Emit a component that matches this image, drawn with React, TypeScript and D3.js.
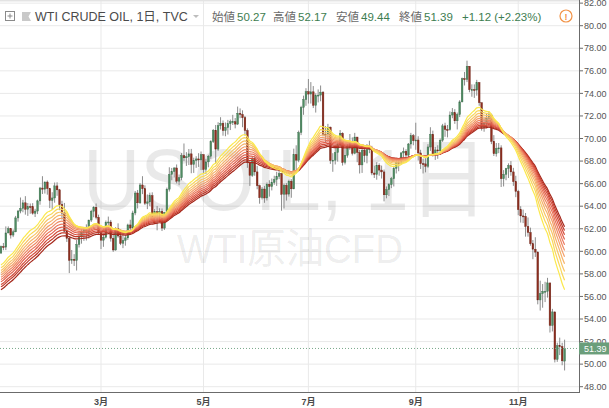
import React from "react";
import * as d3 from "d3";

// [month, day, open, high, low, close]
const bars: number[][] = [
  [12,29,59.84,60.51,59.81,60.42],
  [1,2,60.42,60.74,60.10,60.37],[1,3,60.37,62.21,60.11,61.63],[1,4,61.63,62.21,61.60,62.01],[1,5,62.01,62.04,61.13,61.44],
  [1,8,61.44,61.93,61.26,61.73],[1,9,61.73,63.14,61.69,62.96],[1,10,62.96,63.67,62.63,63.57],[1,11,63.57,64.77,63.37,63.80],
  [1,12,63.80,64.56,63.46,64.30],[1,16,64.30,64.89,63.25,63.73],[1,17,63.73,64.28,63.14,63.97],[1,18,63.97,64.24,63.33,63.95],
  [1,19,63.95,64.27,63.25,63.37],[1,22,63.37,63.77,63.04,63.57],[1,23,63.57,64.58,63.30,64.47],[1,24,64.47,65.71,64.13,65.61],
  [1,25,65.61,66.66,65.08,65.51],[1,26,65.51,66.20,65.12,66.14],[1,29,66.14,66.28,65.02,65.56],[1,30,65.56,65.62,63.83,64.50],
  [1,31,64.50,65.24,63.67,64.73],
  [2,1,64.73,66.10,64.31,65.80],[2,2,65.80,66.12,64.92,65.45],[2,5,65.45,65.53,63.65,64.15],[2,6,64.15,64.48,62.81,63.39],
  [2,7,63.39,64.29,61.71,61.79],[2,8,61.79,62.20,60.83,61.15],[2,9,61.15,61.34,58.07,59.20],[2,12,59.20,60.12,58.89,59.29],
  [2,13,59.29,59.75,58.70,59.19],[2,14,59.19,61.00,58.30,60.60],[2,15,60.60,61.64,60.34,61.34],[2,16,61.34,61.96,60.68,61.68],
  [2,20,61.68,62.09,60.93,61.90],[2,21,61.90,62.39,60.96,61.68],[2,22,61.68,62.80,61.13,62.77],[2,23,62.77,63.68,62.60,63.55],
  [2,26,63.55,64.01,63.02,63.91],[2,27,63.91,64.24,62.83,63.01],[2,28,63.01,63.25,61.45,61.64],
  [3,1,61.64,61.80,60.20,60.99],[3,2,60.99,61.54,60.40,61.25],[3,5,61.25,62.73,61.14,62.57],[3,6,62.57,63.08,62.10,62.60],
  [3,7,62.60,62.78,60.86,61.15],[3,8,61.15,61.50,59.95,60.12],[3,9,60.12,62.14,60.05,62.04],[3,12,62.04,62.48,61.21,61.36],
  [3,13,61.36,61.97,60.55,60.71],[3,14,60.71,61.80,60.28,60.96],[3,15,60.96,61.47,60.50,61.19],[3,16,61.19,62.45,61.00,62.34],
  [3,19,62.34,62.80,61.60,62.06],[3,20,62.06,63.60,61.72,63.40],[3,21,63.40,65.35,63.20,65.17],[3,22,65.17,65.44,63.80,64.30],
  [3,23,64.30,66.05,64.20,65.88],[3,26,65.88,66.66,65.07,65.55],[3,27,65.55,65.85,64.10,64.25],[3,28,64.25,65.04,63.74,64.38],
  [3,29,64.38,65.20,64.00,64.94],
  [4,2,64.94,65.23,62.65,63.01],[4,3,63.01,63.75,62.56,63.51],[4,4,63.51,64.02,61.86,63.37],[4,5,63.37,63.82,62.90,63.54],
  [4,6,63.54,63.80,61.80,62.06],[4,9,62.06,63.50,61.90,63.42],[4,10,63.42,65.65,63.30,65.51],[4,11,65.51,67.45,65.30,66.82],
  [4,12,66.82,67.39,66.30,67.07],[4,13,67.07,67.45,66.55,67.39],[4,16,67.39,67.70,66.02,66.22],[4,17,66.22,66.81,65.86,66.52],
  [4,18,66.52,68.71,66.30,68.47],[4,19,68.47,69.56,68.00,68.29],[4,20,68.29,68.79,67.57,68.38],[4,23,68.38,69.07,67.65,68.64],
  [4,24,68.64,69.08,66.92,67.70],[4,25,67.70,68.30,66.95,68.05],[4,26,68.05,68.43,67.40,68.19],[4,27,68.19,68.70,67.48,68.10],
  [4,30,68.10,68.85,67.20,68.57],
  [5,1,68.57,68.60,66.95,67.25],[5,2,67.25,68.20,66.85,67.93],[5,3,67.93,68.55,67.45,68.43],[5,4,68.43,69.85,68.20,69.72],
  [5,7,69.72,70.84,69.60,70.73],[5,8,70.73,71.20,67.75,69.06],[5,9,69.06,71.44,68.90,71.14],[5,10,71.14,71.89,70.80,71.36],
  [5,11,71.36,71.60,70.25,70.70],[5,14,70.70,71.42,70.20,70.96],[5,15,70.96,71.65,70.35,71.31],[5,16,71.31,71.68,70.75,71.49],
  [5,17,71.49,72.10,71.20,71.49],[5,18,71.49,71.82,70.90,71.28],[5,21,71.28,72.83,71.20,72.24],[5,22,72.24,72.67,71.80,72.13],
  [5,23,72.13,72.50,71.00,71.84],[5,24,71.84,72.00,70.25,70.71],[5,25,70.71,70.90,67.40,67.88],[5,29,67.88,68.05,65.80,66.73],
  [5,30,66.73,68.40,66.60,68.21],[5,31,68.21,68.50,66.70,67.04],
  [6,1,67.04,67.58,65.50,65.81],[6,4,65.81,65.91,64.22,64.75],[6,5,64.75,65.70,64.60,65.52],[6,6,65.52,65.80,64.30,64.73],
  [6,7,64.73,66.10,64.50,65.95],[6,8,65.95,66.30,64.85,65.74],[6,11,65.74,66.45,65.40,66.10],[6,12,66.10,66.70,65.90,66.36],
  [6,13,66.36,67.05,65.80,66.64],[6,14,66.64,67.30,66.40,66.89],[6,15,66.89,66.95,63.60,65.06],[6,18,65.06,66.00,63.80,65.85],
  [6,19,65.85,66.05,64.50,65.07],[6,20,65.07,66.35,64.85,66.22],[6,21,66.22,66.40,64.75,65.54],[6,22,65.54,69.10,65.50,68.58],
  [6,25,68.58,69.40,67.20,68.08],[6,26,68.08,70.70,67.90,70.53],[6,27,70.53,72.90,70.30,72.76],[6,28,72.76,73.80,72.10,73.45],
  [6,29,73.45,74.46,72.90,74.15],
  [7,2,74.15,75.27,73.10,73.94],[7,3,73.94,75.00,73.10,74.14],[7,5,74.14,74.65,72.70,72.94],[7,6,72.94,74.00,72.30,73.80],
  [7,9,73.80,74.35,73.20,73.85],[7,10,73.85,74.70,73.30,74.11],[7,11,74.11,74.20,70.20,70.38],[7,12,70.38,71.10,69.60,70.33],
  [7,13,70.33,71.30,69.80,71.01],[7,16,71.01,71.05,67.75,68.06],[7,17,68.06,68.70,67.05,68.08],[7,18,68.08,69.40,67.70,68.76],
  [7,19,68.76,69.70,67.95,69.46],[7,20,69.46,70.75,69.30,70.46],[7,23,70.46,70.55,67.60,67.89],[7,24,67.89,69.10,67.70,68.52],
  [7,25,68.52,69.50,68.30,69.30],[7,26,69.30,70.40,69.00,69.61],[7,27,69.61,70.10,68.50,68.69],[7,30,68.69,70.50,68.60,70.13],
  [7,31,70.13,70.10,67.90,68.76],
  [8,1,68.76,69.00,66.90,67.66],[8,2,67.66,69.10,66.95,68.96],[8,3,68.96,69.30,67.90,68.49],[8,6,68.49,69.50,67.80,69.01],
  [8,7,69.01,69.80,68.70,69.17],[8,8,69.17,69.35,66.75,66.94],[8,9,66.94,67.60,66.50,66.81],[8,10,66.81,67.90,66.35,67.63],
  [8,13,67.63,67.80,66.70,67.20],[8,14,67.20,67.60,66.45,67.04],[8,15,67.04,67.25,64.43,65.01],[8,16,65.01,65.75,64.70,65.46],
  [8,17,65.46,66.05,64.90,65.91],[8,20,65.91,66.60,65.60,66.43],[8,21,66.43,67.50,65.75,67.35],[8,22,67.35,68.10,66.90,67.86],
  [8,23,67.86,68.25,67.10,67.83],[8,24,67.83,68.80,67.70,68.72],[8,27,68.72,69.20,68.30,68.87],[8,28,68.87,69.05,68.05,68.53],
  [8,29,68.53,69.60,68.30,69.51],[8,30,69.51,70.50,69.10,70.25],[8,31,70.25,70.40,69.40,69.80],
  [9,4,69.80,71.40,69.00,69.87],[9,5,69.87,70.20,68.05,68.72],[9,6,68.72,69.00,67.30,67.77],[9,7,67.77,68.20,66.90,67.75],
  [9,10,67.75,68.25,67.00,67.54],[9,11,67.54,69.50,67.40,69.25],[9,12,69.25,71.00,68.90,70.37],[9,13,70.37,70.70,68.40,68.59],
  [9,14,68.59,69.25,68.10,68.99],[9,17,68.99,69.40,68.20,68.91],[9,18,68.91,70.00,68.55,69.85],[9,19,69.85,71.30,69.70,71.12],
  [9,20,71.12,71.40,70.15,70.80],[9,21,70.80,71.20,70.10,70.78],[9,24,70.78,72.40,70.70,72.08],[9,25,72.08,72.70,71.80,72.28],
  [9,26,72.28,72.60,71.30,71.57],[9,27,71.57,72.30,70.80,72.12],[9,28,72.12,73.40,71.90,73.25],
  [10,1,73.25,75.40,73.20,75.30],[10,2,75.30,75.90,74.70,75.23],[10,3,75.23,76.90,75.00,76.41],[10,4,76.41,76.40,74.10,74.33],
  [10,5,74.33,74.80,73.70,74.34],[10,8,74.34,74.80,73.60,74.29],[10,9,74.29,75.20,73.80,74.96],[10,10,74.96,75.00,72.90,73.17],
  [10,11,73.17,73.20,70.70,70.97],[10,12,70.97,71.80,70.60,71.34],[10,15,71.34,72.20,70.90,71.78],[10,16,71.78,72.40,71.20,72.09],
  [10,17,72.09,72.20,69.50,69.75],[10,18,69.75,70.30,68.45,68.65],[10,19,68.65,69.60,68.40,69.12],[10,22,69.12,69.60,68.70,69.17],
  [10,23,69.17,69.40,65.70,66.43],[10,24,66.43,67.20,65.75,66.82],[10,25,66.82,67.40,66.30,67.33],[10,26,67.33,67.80,66.50,67.59],
  [10,29,67.59,68.00,66.70,67.04],[10,30,67.04,67.40,65.80,66.18],[10,31,66.18,66.70,64.80,65.31],
  [11,1,65.31,65.45,63.20,63.69],[11,2,63.69,64.00,62.55,63.14],[11,5,63.14,63.70,62.50,63.10],[11,6,63.10,63.40,61.30,62.21],
  [11,7,62.21,63.00,61.30,61.67],[11,8,61.67,62.10,60.50,60.67],[11,9,60.67,61.00,59.30,60.19],[11,12,60.19,61.25,59.50,59.93],
  [11,13,59.93,60.00,55.30,55.69],[11,14,55.69,57.40,54.75,56.25],[11,15,56.25,57.10,55.00,56.46],[11,16,56.46,57.30,55.50,56.46],
  [11,19,56.46,57.65,55.90,57.20],[11,20,57.20,57.20,52.80,53.43],[11,21,53.43,54.90,52.90,54.63],[11,23,54.63,54.65,50.15,50.42],
  [11,26,50.42,51.90,50.20,51.63],[11,27,51.63,52.35,50.80,51.56],[11,28,51.56,51.90,49.90,50.29],[11,29,50.27,52.17,49.44,51.39],
];

const yTicks = [48, 50, 52, 54, 56, 58, 60, 62, 64, 66, 68, 70, 72, 74, 76, 78, 80, 82];
const monthTicks = [3, 5, 7, 9, 11];
const monthLabels = ["3月", "5月", "7月", "9月", "11月"];
const emaPeriods = [20, 23, 26, 29, 32, 35, 38, 41, 44, 47, 50];
const emaSeeds = [58.8, 58.55, 58.3, 58.1, 57.9, 57.7, 57.5, 57.3, 57.05, 56.85, 56.6];
const headerLabels = ["始値", "高値", "安値", "終値"];
const headerValues = ["50.27", "52.17", "49.44", "51.39"];
const headerTitle = "WTI CRUDE OIL, 1日, TVC";
const headerChange = "+1.12 (+2.23%)";
const lastPrice = 51.39;

const W = 609, H = 408;
const PLOT_R = 579, PLOT_B = 392;
const FONT = "'Liberation Sans', Arial, 'Noto Sans CJK JP', sans-serif";
const labelX = [212, 273, 336, 399];

export default function App() {
  const x = d3.scaleLinear().domain([0, bars.length - 1]).range([0.96, 0.96 + (bars.length - 1) * 2.44]);
  const y = d3.scaleLinear().domain([48, 80]).range([386.7, 25.7]);
  const closes = bars.map((b) => b[5]);

  const emaLines = emaPeriods.map((p, k) => {
    const a = 2 / (p + 1);
    let v = emaSeeds[k];
    return closes.map((c, i) => {
      if (i > 0) v = v + a * (c - v);
      return v;
    });
  });
  const colorAt = d3.interpolateRgbBasis(["#fbe84c", "#f8c66c", "#f3a06c", "#ec7560", "#da4a38", "#a5281c"]);
  const line = d3.line<number>().x((_, i) => x(i)).y((v) => y(v)).curve(d3.curveMonotoneX);

  const monthX = monthTicks.map((m) => x(bars.findIndex((b) => b[0] === m)));
  const bw = 1.7;

  return (
    <svg width={W} height={H} style={{ position: "absolute", left: 0, top: 0, background: "#fff" }} fontFamily={FONT}>
      <rect x={0} y={0} width={W} height={H} fill="#fff" />
      {/* grid */}
      {yTicks.map((t) => (
        <line key={"gy" + t} x1={0} x2={PLOT_R} y1={y(t)} y2={y(t)} stroke="#e9e9e9" strokeWidth={1} />
      ))}
      {monthX.map((mx, i) => (
        <line key={"gx" + i} x1={mx} x2={mx} y1={0} y2={PLOT_B} stroke="#e9e9e9" strokeWidth={1} />
      ))}
      <line x1={0} x2={W} y1={0.5} y2={0.5} stroke="#e3e3e3" strokeWidth={2} />
      {/* watermark */}
      <text x={83} y={210} fontSize={88} fill="#000" fillOpacity={0.085} textLength={405} lengthAdjust="spacingAndGlyphs">USOIL, 1日</text>
      <text x={177} y={263} fontSize={41} fill="#000" fillOpacity={0.085} textLength={226} lengthAdjust="spacingAndGlyphs">WTI原油CFD</text>
      {/* candles */}
      <defs>
        <clipPath id="plotclip">
          <rect x={0} y={0} width={PLOT_R} height={PLOT_B} />
        </clipPath>
      </defs>
      <g clipPath="url(#plotclip)">
        {bars.map((b, i) => {
          const [, , o, h, l, c] = b;
          const up = c >= o;
          const cx = x(i);
          const top = y(Math.max(o, c));
          const bot = y(Math.min(o, c));
          return (
            <g key={i}>
              <line x1={cx} x2={cx} y1={y(h)} y2={y(l)} stroke="#8c8c8c" strokeWidth={1} />
              <rect x={cx - bw / 2} y={top} width={bw} height={Math.max(1, bot - top)} fill={up ? "#4f8c63" : "#8e2f20"} stroke={up ? "#3c6f4d" : "#6e2418"} strokeWidth={0.4} />
            </g>
          );
        })}
        {emaLines.slice().reverse().map((vals, k) => {
          const idx = emaLines.length - 1 - k;
          return (
            <path key={"ema" + idx} d={line(vals) || ""} fill="none" stroke={colorAt(idx / (emaLines.length - 1))} strokeWidth={1.2} />
          );
        })}
      </g>
      {/* price line */}
      <line x1={0} x2={PLOT_R} y1={y(lastPrice)} y2={y(lastPrice)} stroke="#7aa98a" strokeWidth={1} strokeDasharray="1,2" />
      {/* right axis */}
      <rect x={PLOT_R} y={0} width={W - PLOT_R} height={H} fill="#fff" />
      <line x1={PLOT_R + 0.5} x2={PLOT_R + 0.5} y1={0} y2={PLOT_B} stroke="#6b6b6b" strokeWidth={1} />
      {yTicks.map((t) => (
        <g key={"yt" + t}>
          <line x1={PLOT_R} x2={PLOT_R + 4} y1={y(t)} y2={y(t)} stroke="#6b6b6b" strokeWidth={1} />
          <text x={584} y={y(t) + 3.2} fontSize={9} fill="#555">{t.toFixed(2)}</text>
        </g>
      ))}
      <rect x={PLOT_R} y={y(lastPrice) - 6} width={W - PLOT_R} height={12} fill="#6b9e7b" />
      <text x={584} y={y(lastPrice) + 3.2} fontSize={9} fill="#fff">{lastPrice.toFixed(2)}</text>
      {/* bottom axis */}
      <rect x={0} y={PLOT_B} width={PLOT_R} height={H - PLOT_B} fill="#fff" />
      <line x1={0} x2={PLOT_R + 1} y1={PLOT_B + 0.5} y2={PLOT_B + 0.5} stroke="#6b6b6b" strokeWidth={1} />
      {monthX.map((mx, i) => (
        <text key={"ml" + i} x={mx} y={405} fontSize={9} fontWeight="bold" fill="#4a4a4a" textAnchor="middle">{monthLabels[i]}</text>
      ))}
      {/* header */}
      <rect x={5.5} y={11.5} width={9} height={9} fill="none" stroke="#8a8a8a" strokeWidth={1} />
      <line x1={7.5} x2={12.5} y1={16} y2={16} stroke="#8a8a8a" strokeWidth={1} />
      <line x1={10} x2={10} y1={13.5} y2={18.5} stroke="#8a8a8a" strokeWidth={1} />
      <path d="M22,12 L31,12 L28.5,16.5 L31,21 L22,21 Z" fill="#c9c9c9" />
      <text x={35} y={20.5} fontSize={12.5} fill="#4a4a4a">{headerTitle}</text>
      <path d="M193,15 L199,15 L196,18 Z" fill="#bdbdbd" />
      <g fontSize={11.5}>
        {headerLabels.map((lb, i) => (
          <g key={"hl" + i}>
            <text x={labelX[i]} y={20.5} fill="#6a6a6a">{lb}</text>
            <text x={labelX[i] + 25} y={20.5} fill="#3d7d50">{headerValues[i]}</text>
          </g>
        ))}
        <text x={462} y={20.5} fill="#3d7d50">{headerChange}</text>
      </g>
      <circle cx={566} cy={16} r={6} fill="none" stroke="#f29245" strokeWidth={1.2} />
      <text x={566} y={19.5} fontSize={9} fill="#f29245" textAnchor="middle" fontWeight="bold">!</text>
    </svg>
  );
}
